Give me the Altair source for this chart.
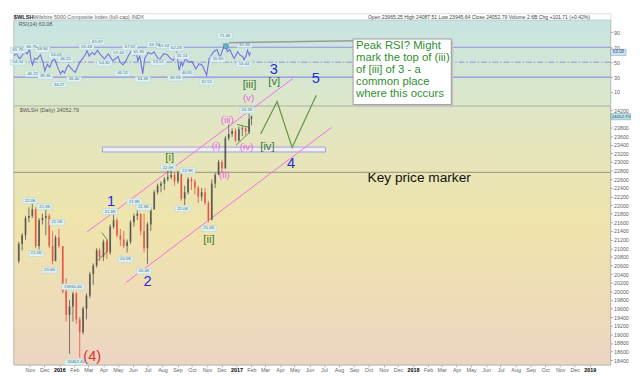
import altair as alt
import pandas as pd

# ---------------- data ----------------
# RSI(14)
rsi_dates = ["2015-10-09","2015-10-14","2015-10-19","2015-10-21","2015-10-27","2015-11-02","2015-11-05","2015-11-10",
             "2015-11-13","2015-11-16","2015-11-20","2015-11-25","2015-12-02","2015-12-07","2015-12-11","2015-12-16",
             "2015-12-21","2015-12-26","2015-12-31","2016-01-04","2016-01-08","2016-01-12","2016-01-16","2016-01-20",
             "2016-01-24","2016-01-28","2016-02-02","2016-02-06","2016-02-11","2016-02-16","2016-02-21","2016-02-26",
             "2016-03-02","2016-03-06","2016-03-10","2016-03-16","2016-03-21","2016-03-27","2016-04-02","2016-04-10",
             "2016-04-18","2016-04-27","2016-05-08","2016-05-12","2016-05-18","2016-05-24","2016-05-30","2016-06-06",
             "2016-06-10","2016-06-14","2016-06-17","2016-06-21","2016-06-27","2016-07-01","2016-07-08","2016-07-14",
             "2016-07-20","2016-07-27","2016-07-31","2016-08-09","2016-08-16","2016-08-22","2016-08-28","2016-09-04",
             "2016-09-09","2016-09-13","2016-09-16","2016-09-22","2016-09-28","2016-10-05","2016-10-13","2016-10-20",
             "2016-10-26","2016-11-04","2016-11-09","2016-11-14","2016-11-18","2016-11-25","2016-12-01","2016-12-08",
             "2016-12-13","2016-12-16","2016-12-21","2016-12-28","2016-12-30","2017-01-06","2017-01-10","2017-01-17",
             "2017-01-19","2017-01-23","2017-01-26","2017-01-30","2017-02-01"]
rsi_values = [58.5,61.8,56.0,54.5,60.5,63.0,61.0,66.8,
              52.0,46.2,55.0,54.0,59.9,50.0,38.4,47.0,
              43.0,52.0,54.0,47.0,40.0,34.3,38.5,35.5,
              42.0,46.3,42.0,39.0,36.4,44.0,51.0,55.0,
              60.0,65.4,58.0,63.0,60.0,66.0,60.0,54.3,
              61.0,52.0,57.4,50.0,46.5,52.0,60.0,67.6,
              59.0,62.0,52.0,58.0,34.4,55.0,63.0,61.0,
              63.7,56.0,53.5,61.5,60.0,55.0,52.3,62.3,
              39.0,49.6,45.0,55.1,50.0,51.0,41.0,48.0,
              46.0,32.5,55.0,60.0,64.0,67.0,56.0,69.5,
              71.5,64.0,67.0,57.0,55.0,64.0,60.0,57.0,
              53.4,58.0,66.0,59.0,63.1]

# weekly candles of $WLSH
week_dates = ["2015-10-09","2015-10-16","2015-10-23","2015-10-30","2015-11-06","2015-11-13","2015-11-20","2015-11-27",
              "2015-12-04","2015-12-11","2015-12-18","2015-12-24","2015-12-31","2016-01-08","2016-01-15","2016-01-22",
              "2016-01-29","2016-02-05","2016-02-12","2016-02-19","2016-02-26","2016-03-04","2016-03-11","2016-03-18",
              "2016-03-24","2016-04-01","2016-04-08","2016-04-15","2016-04-22","2016-04-29","2016-05-06","2016-05-13",
              "2016-05-20","2016-05-27","2016-06-03","2016-06-10","2016-06-17","2016-06-24","2016-07-01","2016-07-08",
              "2016-07-15","2016-07-22","2016-07-29","2016-08-05","2016-08-12","2016-08-19","2016-08-26","2016-09-02",
              "2016-09-09","2016-09-16","2016-09-23","2016-09-30","2016-10-07","2016-10-14","2016-10-21","2016-10-28",
              "2016-11-04","2016-11-11","2016-11-18","2016-11-25","2016-12-02","2016-12-09","2016-12-16","2016-12-23",
              "2016-12-30","2017-01-06","2017-01-13","2017-01-20","2017-01-27","2017-02-01"]
opens = [20700,21100,21300,21700,21750,21900,21050,21650,21700,21750,
         21050,20700,21250,21050,20000,19450,19650,19950,19350,19050,
         19600,19900,20400,20600,20950,20800,21150,20900,21500,21650,
         21300,21200,21050,21150,21600,21750,21800,21400,21000,21550,
         21900,22300,22450,22500,22600,22650,22700,22550,22750,22150,
         22300,22600,22550,22400,22200,22300,22050,21650,22500,22700,
         23000,22850,23550,23650,23720,23500,23760,23780,23700,24000]
highs = [21150,21350,21750,21950,22050,21950,21700,21800,21900,21800,
         21400,21300,21450,21050,20300,19800,19990,19990,19400,19650,
         19950,20450,20650,21000,21000,21200,21200,21550,21850,21700,
         21450,21400,21200,21650,21800,21990,21800,21800,21600,21950,
         22350,22500,22550,22650,22800,22870,22750,22800,22850,22450,
         22650,22650,22600,22450,22400,22400,22100,22600,22750,23050,
         23050,23600,23870,23780,23780,23820,23830,23800,24140,24080]
lows = [20650,20950,21200,21600,21700,21000,20970,21550,21300,21000,
        20630,20700,21000,19950,19300,18550,19300,19250,18462,19000,
        19350,19850,20150,20550,20700,20700,20750,20850,21450,21250,
        21050,21000,20900,21100,21500,21650,21300,20900,20630,21400,
        21900,22250,22300,22350,22550,22600,22450,22500,22100,22000,
        22250,22350,22250,22050,22100,22000,21600,21700,22400,22700,
        22750,22850,23500,23580,23460,23480,23600,23620,23650,23850]
closes = [21100,21300,21700,21750,21900,21050,21650,21700,21750,21050,
          20700,21250,21050,20000,19450,19650,19950,19350,19050,19600,
          19900,20400,20600,20950,20800,21150,20900,21500,21650,21300,
          21200,21050,21150,21600,21750,21800,21400,21000,21550,21900,
          22300,22450,22500,22600,22650,22700,22550,22750,22150,22300,
          22600,22550,22400,22200,22300,22050,21650,22500,22700,23000,
          22850,23550,23650,23720,23500,23760,23780,23700,24000,24052.79]

# small value flags on the price plot
plbl_dates = ["2015-11-02","2015-11-14","2015-12-02","2015-12-12","2015-12-27","2016-01-29","2016-02-04","2016-04-15",
              "2016-05-17","2016-06-04","2016-06-23","2016-06-24","2016-08-13","2016-09-22","2016-09-12","2016-11-05","2017-01-23"]
plbl_price = [22100,20877,21964,20491,21601,20106,18360,21851,20741,22077,21948,20469,22870,22795,21912,21459,24200]
plbl_text = ["22.0K","21.0K","21.9K","20.6K","21.5K","19990.40","18462.40","21.8K","20.9K","21.8K","21.8K","20.6K",
             "22.9K","22.9K","22.0K","21.6K","24.1K"]

# small value flags on the RSI plot
rlbl_dates = ["2015-10-17","2015-10-17","2015-11-14","2015-12-06","2015-11-16","2016-01-03","2015-12-12","2016-01-22",
              "2016-01-09","2016-02-08","2016-03-05","2016-03-27","2016-04-10","2016-05-09","2016-05-17","2016-06-01",
              "2016-06-19","2016-06-27","2016-07-21","2016-07-29","2016-08-09","2016-09-03","2016-09-15","2016-09-01",
              "2016-09-25","2016-11-04","2016-12-11","2016-11-27","2017-01-20","2017-01-19"]
rlbl_pos = [65.7,50,70.9,67,34.3,59.2,31.3,53.9,20,26.9,70.5,77,48.7,62.7,35.2,70,63.5,26.9,73.5,49.6,72.2,69.2,
            58.2,28.7,35.2,23.5,85.3,53.9,73.5,47.4]
rlbl_text = ["61.79","54.54","66.75","59.94","46.21","54.03","38.36","46.25","34.27","36.40","65.44","65.97","54.30",
             "57.44","46.52","67.62","61.95","34.38","63.74","53.51","61.52","62.28","55.13","38.96","40.95","32.51",
             "71.49","55.99","65.99","53.44"]

# Elliott wave labels
blue_text = ["1", "2", "3", "4", "5"]
blue_dates = ["2016-04-17", "2016-07-01", "2017-03-19", "2017-04-24", "2017-06-14"]
blue_price = [22084, 20226, 25160, 22968, 24955]
red_text = ["(4)"]
red_dates = ["2016-03-09"]
red_price = [18491]
pink_text = ["(i)", "(ii)", "(iii)", "(iv)", "(v)"]
pink_dates = ["2016-11-20", "2016-12-07", "2016-12-13", "2017-01-22", "2017-01-26"]
pink_price = [23360, 22690, 23980, 23346, 24479]
green_text = ["[i]", "[ii]", "[iii]", "[iv]", "[v]"]
green_dates = ["2016-08-16", "2016-11-05", "2017-01-28", "2017-03-06", "2017-03-20"]
green_price = [23085, 21194, 24796, 23357, 24850]

# drawn lines
chan_d1 = ["2016-02-27", "2016-05-17"]
chan_p1 = [21375, 20197]
chan_d2 = ["2017-04-27", "2017-07-16"]
chan_p2 = [24932, 23799]
zig_dates = ["2017-02-20", "2017-03-26", "2017-04-26", "2017-06-15"]
zig_price = [23647, 24404, 23339, 24546]
tri_group = ["a", "a", "a", "a", "b", "b", "b", "b"]
tri_dates = ["2016-03-29", "2016-04-09", "2016-04-09", "2016-03-21",
             "2017-01-02", "2017-01-28", "2017-01-28", "2016-12-31"]
tri_price = [21360, 21192, 20920, 20725, 23874, 23799, 23686, 23391]
band_dates = ["2016-03-30", "2017-07-04"]
band_price = [23233, 23346]
key_price = 22757
key_text_date = "2017-09-29"
key_text_price = 22530
note_box_dates = ["2017-08-30", "2018-03-21"]
note_box_price = [24331, 25854]
note_date = "2017-09-05"
note_lines = ["Peak RSI? Might", "mark the top of (iii)", "of [iii] of 3 - a", "common place", "where this occurs"]
note_price = [25611, 25340, 25068, 24784, 24501]
conn_dates = ["2016-12-19", "2017-09-01"]
conn_rsi = [76.0, 78.8]
peak_date = "2016-12-13"
peak_rsi = 71.5
last_close = 24052.79
last_rsi = 63.08
price_ticks = [18400, 18600, 18800, 19000, 19200, 19400, 19600, 19800, 20000, 20200, 20400, 20600, 20800,
               21000, 21200, 21400, 21600, 21800, 22000, 22200, 22400, 22600, 22800, 23000, 23200, 23400,
               23600, 23800, 24200]
rsi_ticks = [10, 30, 50, 70, 90]

# ---------------- helpers ----------------
FONT = "Liberation Sans"
W = 611
H_RSI = 95
H_PRICE = 265


def dt(s):
    y, m, d = (int(v) for v in s.split("-"))
    return alt.DateTime(year=y, month=m, date=d)


def box_path(t, fs):
    hw = (len(t) * fs * 0.56 + 3) / 2
    hh = fs * 0.68
    return f"M{-hw:.1f},{-hh:.1f}H{hw:.1f}V{hh:.1f}H{-hw:.1f}Z"


X_SCALE = alt.Scale(domain=[dt("2015-10-09"), dt("2019-02-03")], nice=False)
month_ticks = [alt.DateTime(year=d.year, month=d.month, date=1)
               for d in pd.date_range("2015-11-01", "2019-01-01", freq="MS")]

x_axis = alt.Axis(values=month_ticks, title=None, grid=False, domain=False,
                  labelExpr="month(datum.value) == 0 ? timeFormat(datum.value, '%Y') : timeFormat(datum.value, '%b')",
                  labelFontSize=5.5, labelFont=FONT, labelPadding=1, tickSize=2, tickColor="#aaa",
                  labelColor={"condition": {"test": "month(datum.value) == 0", "value": "#000"}, "value": "#666"},
                  labelFontWeight={"condition": {"test": "month(datum.value) == 0", "value": "bold"},
                                   "value": "normal"})

XP = alt.X("date:T", scale=X_SCALE, axis=x_axis)
XR = alt.X("date:T", scale=X_SCALE, axis=None)

p_scale = alt.Scale(domain=[18294, 24297], nice=False, zero=False)
p_axis = alt.Axis(orient="right", values=price_ticks, format="d", title=None, grid=False, domain=False,
                  labelFontSize=5.5, labelFont=FONT, labelColor="#666", tickSize=2, tickColor="#aaa",
                  labelPadding=1)
r_scale = alt.Scale(domain=[-8.8, 115.4], nice=False, zero=False)
r_axis = alt.Axis(orient="right", values=rsi_ticks, title=None, grid=False, domain=False,
                  labelFontSize=5.5, labelFont=FONT, labelColor="#666", tickSize=2, tickColor="#aaa",
                  labelPadding=1)


def YP(field):
    return alt.Y(field, scale=p_scale, axis=p_axis, title=None)


def YR(field):
    return alt.Y(field, scale=r_scale, axis=r_axis, title=None)


one = pd.DataFrame({"k": [0]})

# ---------------- RSI panel ----------------
rsi_df = pd.DataFrame({"date": rsi_dates, "rsi": rsi_values})
rlbl_df = pd.DataFrame({"date": rlbl_dates, "rsi": rlbl_pos, "t": rlbl_text})
rlbl_df["shape"] = [box_path(t, 4.4) for t in rlbl_text]

rsi_bg = alt.Chart(one).mark_rect(
    fill=alt.LinearGradient(gradient="linear", x1=0, x2=0, y1=0, y2=1,
                            stops=[alt.GradientStop(color="#c7e4e4", offset=0),
                                   alt.GradientStop(color="#dde8c8", offset=1)]),
    stroke="#b9c4bc", strokeWidth=1
).encode(x=alt.value(0), x2=alt.value("width"), y=alt.value(7), y2=alt.value("height"))

rsi_solid = alt.Chart(pd.DataFrame({"rsi": [70, 30]})).mark_rule(
    color="#8f8fe0", strokeWidth=1.2).encode(y=YR("rsi:Q"))
rsi_mid = alt.Chart(pd.DataFrame({"rsi": [50]})).mark_rule(
    color="#8f8fe0", strokeWidth=1, strokeDash=[6, 2, 1.5, 2]).encode(y=YR("rsi:Q"))
rsi_line = alt.Chart(rsi_df).mark_line(color="#6f6fe8", strokeWidth=1.1).encode(x=XR, y=YR("rsi:Q"))
rsi_boxes = alt.Chart(rlbl_df).mark_point(filled=True, size=4, fill="#def2f2", stroke="#b0d4d5",
                                          strokeWidth=0.5, opacity=1).encode(
    x=XR, y=YR("rsi:Q"), shape=alt.Shape("shape:N", scale=None))
rsi_lbls = alt.Chart(rlbl_df).mark_text(fontSize=4.4, font=FONT, color="#52708e").encode(
    x=XR, y=YR("rsi:Q"), text="t:N")
conn = alt.Chart(pd.DataFrame({"date": [conn_dates[0]], "rsi": [conn_rsi[0]],
                               "date2": [conn_dates[1]], "rsi2": [conn_rsi[1]]})).mark_rule(
    color="#9b9b9b", strokeWidth=1.6).encode(x=XR, x2="date2:T", y=YR("rsi:Q"), y2="rsi2:Q")
peak = alt.Chart(pd.DataFrame({"date": [peak_date], "rsi": [peak_rsi]})).mark_square(
    size=22, fill="#62b8c2", stroke="#4a6f9a", strokeWidth=0.6, opacity=1).encode(x=XR, y=YR("rsi:Q"))
rsi_title = alt.Chart(one).mark_text(text="RSI(14) 63.08", fontSize=5.5, font=FONT, color="#555",
                                     align="left").encode(x=alt.value(5), y=alt.value(11))
last_rsi_df = pd.DataFrame({"rsi": [last_rsi], "t": ["63.08"], "shape": [box_path("63.08", 4.6)]})
rsi_last_box = alt.Chart(last_rsi_df).mark_point(filled=True, size=4, fill="#cfe6f2", stroke="#6d8fc0",
                                                 strokeWidth=0.5, opacity=1).encode(
    x=alt.value(W + 8), y=YR("rsi:Q"), shape=alt.Shape("shape:N", scale=None))
rsi_last_txt = alt.Chart(last_rsi_df).mark_text(fontSize=4.6, font=FONT, color="#34507a").encode(
    x=alt.value(W + 8), y=YR("rsi:Q"), text="t:N")
hdr1 = alt.Chart(one).mark_text(text="$WLSH", fontSize=5.8, font=FONT, fontWeight="bold", color="#222",
                                align="left", baseline="alphabetic").encode(x=alt.value(0), y=alt.value(5.5))
hdr2 = alt.Chart(one).mark_text(text="Wilshire 5000 Composite Index (full-cap)  INDX", fontSize=5.5, font=FONT,
                                color="#666", align="left", baseline="alphabetic").encode(
    x=alt.value(20), y=alt.value(5.5))
hdr3 = alt.Chart(one).mark_text(
    text="Open 23965.25  High 24087.51  Low 23945.64  Close 24052.79  Volume 2.6B  Chg +101.71 (+0.42%)",
    fontSize=5.2, font=FONT, color="#444", align="right", baseline="alphabetic").encode(
    x=alt.value(590), y=alt.value(5.5))

rsi_panel = alt.layer(rsi_bg, rsi_solid, rsi_mid, rsi_line, rsi_boxes, rsi_lbls, conn, peak,
                      rsi_title, rsi_last_box, rsi_last_txt, hdr1, hdr2, hdr3).properties(width=W, height=H_RSI)

# ---------------- price panel ----------------
cdf = pd.DataFrame({"date": week_dates, "open": opens, "high": highs, "low": lows, "close": closes})
cdf["dir"] = ["up" if c >= o else "down" for o, c in zip(opens, closes)]
ccol = alt.Color("dir:N", scale=alt.Scale(domain=["up", "down"], range=["#4a4a4a", "#e5483f"]), legend=None)

price_bg = alt.Chart(one).mark_rect(
    fill=alt.LinearGradient(gradient="linear", x1=0, x2=0, y1=0, y2=1,
                            stops=[alt.GradientStop(color="#dfe6c6", offset=0),
                                   alt.GradientStop(color="#efe4ab", offset=0.45),
                                   alt.GradientStop(color="#edd5c3", offset=1)]),
    stroke="#b9b9a8", strokeWidth=1
).encode(x=alt.value(0), x2=alt.value("width"), y=alt.value(0), y2=alt.value("height"))

key_rule = alt.Chart(pd.DataFrame({"price": [key_price]})).mark_rule(
    color="#a8a289", strokeWidth=1.3).encode(y=YP("price:Q"))
band = alt.Chart(pd.DataFrame({"date": [band_dates[0]], "date2": [band_dates[1]],
                               "price": [band_price[0]], "price2": [band_price[1]]})).mark_rect(
    fill="#f6f4fb", fillOpacity=0.7, stroke="#9d9ded", strokeWidth=1).encode(
    x=XP, x2="date2:T", y=YP("price:Q"), y2="price2:Q")
chan = alt.Chart(pd.DataFrame({"date": chan_d1, "price": chan_p1, "date2": chan_d2, "price2": chan_p2})).mark_rule(
    color="#f26ee6", strokeWidth=1).encode(x=XP, x2="date2:T", y=YP("price:Q"), y2="price2:Q")
zig = alt.Chart(pd.DataFrame({"date": zig_dates, "price": zig_price, "o": list(range(len(zig_dates)))})).mark_line(
    color="#5e9444", strokeWidth=1.2).encode(x=XP, y=YP("price:Q"), order="o:Q")
tri = alt.Chart(pd.DataFrame({"date": tri_dates, "price": tri_price, "g": tri_group,
                              "o": list(range(len(tri_dates)))})).mark_line(
    color="#5e9444", strokeWidth=1).encode(x=XP, y=YP("price:Q"), detail="g:N", order="o:Q")
wick = alt.Chart(cdf).mark_rule(strokeWidth=1, opacity=0.75).encode(
    x=XP, y=YP("low:Q"), y2="high:Q", color=ccol)
body = alt.Chart(cdf).mark_bar(size=1.8, opacity=0.75).encode(
    x=XP, y=YP("open:Q"), y2="close:Q", color=ccol)

plbl_df = pd.DataFrame({"date": plbl_dates, "price": plbl_price, "t": plbl_text})
plbl_df["shape"] = [box_path(t, 4.4) for t in plbl_text]
p_boxes = alt.Chart(plbl_df).mark_point(filled=True, size=4, fill="#def2f2", stroke="#b0d4d5",
                                        strokeWidth=0.5, opacity=1).encode(
    x=XP, y=YP("price:Q"), shape=alt.Shape("shape:N", scale=None))
p_lbls = alt.Chart(plbl_df).mark_text(fontSize=4.4, font=FONT, color="#52708e").encode(
    x=XP, y=YP("price:Q"), text="t:N")


def wave_layer(texts, dates, prices, color, size):
    df = pd.DataFrame({"date": dates, "price": prices, "t": texts})
    return alt.Chart(df).mark_text(fontSize=size, font=FONT, color=color).encode(
        x=XP, y=YP("price:Q"), text="t:N")


w_blue = wave_layer(blue_text, blue_dates, blue_price, "#1d2fd8", 15)
w_red = wave_layer(red_text, red_dates, red_price, "#e8302a", 15)
w_pink = wave_layer(pink_text, pink_dates, pink_price, "#ef5fe8", 10)
w_green = wave_layer(green_text, green_dates, green_price, "#3f7a2b", 11.5)

note_shadow = alt.Chart(pd.DataFrame({"date": [note_box_dates[0]], "date2": [note_box_dates[1]],
                                      "price": [note_box_price[0]], "price2": [note_box_price[1]]})).mark_rect(
    fill="#c4c4c4", xOffset=2, x2Offset=2, yOffset=2, y2Offset=2).encode(
    x=XP, x2="date2:T", y=YP("price:Q"), y2="price2:Q")
note_box = alt.Chart(pd.DataFrame({"date": [note_box_dates[0]], "date2": [note_box_dates[1]],
                                   "price": [note_box_price[0]], "price2": [note_box_price[1]]})).mark_rect(
    fill="#ffffff", stroke="#9a9a9a", strokeWidth=1).encode(
    x=XP, x2="date2:T", y=YP("price:Q"), y2="price2:Q")
note_txt = alt.Chart(pd.DataFrame({"date": [note_date] * len(note_lines), "price": note_price,
                                   "t": note_lines})).mark_text(
    fontSize=11.6, font=FONT, color="#2f8f2f", align="left", baseline="alphabetic").encode(
    x=XP, y=YP("price:Q"), text="t:N")
key_txt = alt.Chart(pd.DataFrame({"date": [key_text_date], "price": [key_text_price],
                                  "t": ["Key price marker"]})).mark_text(
    fontSize=14, font=FONT, color="#111", align="left", baseline="alphabetic").encode(
    x=XP, y=YP("price:Q"), text="t:N")
p_title = alt.Chart(one).mark_text(text="$WLSH (Daily) 24052.79", fontSize=5.5, font=FONT, color="#555",
                                   align="left").encode(x=alt.value(6), y=alt.value(4.5))
last_df = pd.DataFrame({"price": [last_close], "t": ["24052.79"], "shape": ["M-10,-3.2H10V3.2H-10Z"]})
last_box = alt.Chart(last_df).mark_point(filled=True, size=4, fill="#bfe2e6", stroke="#5f9aa6",
                                         strokeWidth=0.5, opacity=1).encode(
    x=alt.value(W + 10.5), y=YP("price:Q"), shape=alt.Shape("shape:N", scale=None))
last_txt = alt.Chart(last_df).mark_text(fontSize=4.5, font=FONT, color="#244a66").encode(
    x=alt.value(W + 10.5), y=YP("price:Q"), text="t:N")

price_panel = alt.layer(price_bg, key_rule, band, chan, zig, tri, wick, body, p_boxes, p_lbls,
                        w_blue, w_red, w_pink, w_green, note_shadow, note_box, note_txt, key_txt,
                        p_title, last_box, last_txt).properties(width=W, height=H_PRICE)

chart = alt.vconcat(rsi_panel, price_panel, spacing=0, bounds="flush").properties(
    padding=0, background="#ffffff").configure_view(stroke=None).configure(font=FONT)

chart.save("out.html", embed_options={"renderer": "svg", "actions": False})
